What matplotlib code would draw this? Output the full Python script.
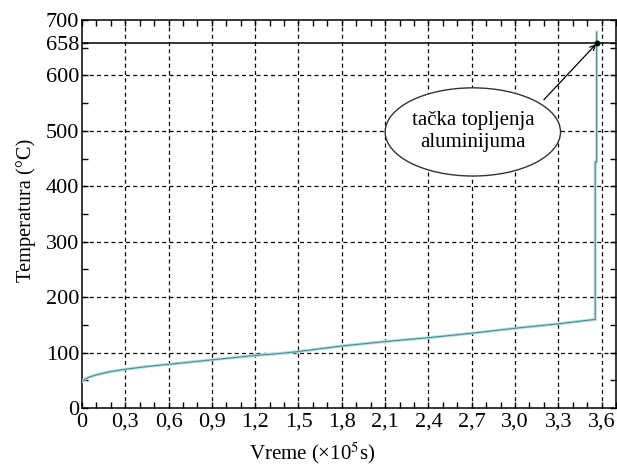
import matplotlib
matplotlib.use("Agg")
import matplotlib.pyplot as plt
from matplotlib.patches import Ellipse
from matplotlib.ticker import MultipleLocator, FixedLocator

# Heating curve of the sample (time in 1e5 s, temperature in °C)
time = [0.0, 0.02, 0.05, 0.1, 0.2, 0.3, 0.45, 0.6, 0.75, 0.9, 1.05, 1.2, 1.35,
        1.5, 1.8, 2.1, 2.4, 2.7, 3.0, 3.3, 3.556, 3.556, 3.566, 3.566]
temp = [48, 52, 56, 60, 66, 70, 75, 79, 83, 87, 91, 95, 98,
        102, 112, 120, 127, 135, 144, 152, 160, 444, 444, 678]

melting_point = 658
melt_time = 3.568

xtick_values = [0, 0.3, 0.6, 0.9, 1.2, 1.5, 1.8, 2.1, 2.4, 2.7, 3.0, 3.3, 3.6]
xtick_labels = ["0", "0,3", "0,6", "0,9", "1,2", "1,5", "1,8", "2,1",
                "2,4", "2,7", "3,0", "3,3", "3,6"]
ytick_values = [0, 100, 200, 300, 400, 500, 600, 658, 700]
ytick_labels = ["0", "100", "200", "300", "400", "500", "600", "658", "700"]

note_text = "tačka topljenja\naluminijuma"

plt.rcParams["font.family"] = ["Liberation Serif", "DejaVu Serif"]
plt.rcParams["mathtext.fontset"] = "stix"

fig = plt.figure(figsize=(6.17, 4.74), dpi=100)
ax = fig.add_axes([0.1329, 0.139, 0.8655, 0.819])

ax.set_xlim(0, 3.7)
ax.set_ylim(0, 700)

# grid
grid_kw = dict(color="black", lw=0.9, linestyle=(0, (3.2, 2.6)), zorder=1)
for xv in xtick_values[1:]:
    ax.axvline(xv, **grid_kw)
for yv in [100, 200, 300, 400, 500, 600]:
    ax.axhline(yv, **grid_kw)

# melting point reference line
ax.axhline(melting_point, color="black", lw=1.1, zorder=2)

# temperature curve
ax.plot(time, temp, color="#b5dee1", lw=2.2, solid_joinstyle="miter", zorder=3)
ax.plot(time, temp, color="#4a8d93", lw=0.8, zorder=4)

# annotation
ax.plot([melt_time], [melting_point], "o", color="black", ms=3.2, zorder=5)
ax.annotate("", xy=(melt_time, melting_point), xytext=(3.20, 556),
            arrowprops=dict(arrowstyle="->", color="black", lw=0.9,
                            shrinkA=0, shrinkB=1, mutation_scale=9),
            zorder=5)
ax.add_patch(Ellipse((2.708, 498), 1.215, 159, facecolor="white",
                     edgecolor="#333333", lw=1.0, zorder=6))
ax.text(2.708, 499, note_text, ha="center", va="center", fontsize=15,
        linespacing=1.2, zorder=7)

# ticks
ax.xaxis.set_major_locator(FixedLocator(xtick_values))
ax.set_xticklabels(xtick_labels)
ax.xaxis.set_minor_locator(MultipleLocator(0.1))
ax.yaxis.set_major_locator(FixedLocator(ytick_values))
ax.set_yticklabels(ytick_labels)
ax.yaxis.set_minor_locator(FixedLocator([50, 150, 250, 350, 450, 550, 650]))
ax.tick_params(which="both", direction="in", top=True, right=True,
               labelsize=16, width=1.0, colors="black")
ax.tick_params(axis="x", which="major", pad=3.5)
ax.tick_params(axis="y", which="major", pad=2)
ax.tick_params(which="major", length=4)
ax.tick_params(which="minor", length=4)
for s in ax.spines.values():
    s.set_linewidth(1.1)

ax.set_ylabel("Temperatura (°C)", fontsize=14.7)
ax.yaxis.set_label_coords(-0.086, 0.51)
fig.text(0.506, 0.044, r"Vreme (×10$^5$s)", ha="center", va="center", fontsize=15)

fig.savefig("out.png", dpi=100)
